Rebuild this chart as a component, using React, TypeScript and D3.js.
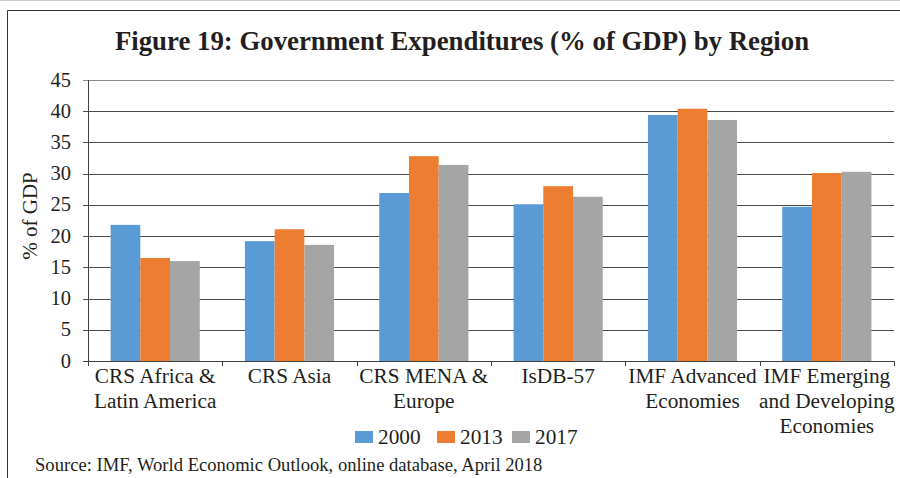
import React, { useEffect, useRef } from "react"
import * as d3 from "d3"

const categories = [
	"CRS Africa & Latin America",
	"CRS Asia",
	"CRS MENA & Europe",
	"IsDB-57",
	"IMF Advanced Economies",
	"IMF Emerging and Developing Economies",
]
const categoryLines = [
	["CRS Africa &", "Latin America"],
	["CRS Asia"],
	["CRS MENA &", "Europe"],
	["IsDB-57"],
	["IMF Advanced", "Economies"],
	["IMF Emerging", "and Developing", "Economies"],
]
const seriesNames = ["2000", "2013", "2017"]
const values2000 = [21.8, 19.2, 26.9, 25.1, 39.4, 24.7]
const values2013 = [16.5, 21.1, 32.8, 28.0, 40.4, 30.1]
const values2017 = [16.0, 18.6, 31.4, 26.3, 38.6, 30.3]
const yTicks = [0, 5, 10, 15, 20, 25, 30, 35, 40, 45]

const colors = ["#5B9BD5", "#ED7D31", "#A5A5A5"]
const FONT = "'Liberation Serif', 'Times New Roman', serif"

const App: React.FC = () => {
	const ref = useRef<SVGSVGElement>(null)

	useEffect(() => {
		const svg = d3.select(ref.current)
		svg.selectAll("*").remove()

		const margin = { top: 80, right: 6, bottom: 117, left: 88 }
		const width = 900
		const height = 478

		const x = d3
			.scaleBand()
			.domain(categories)
			.range([margin.left, width - margin.right])
			.paddingInner(0)
		const xInner = d3
			.scaleBand()
			.domain(seriesNames)
			.range([0, x.bandwidth()])
			.paddingInner(0)
			.paddingOuter(0.76)
		const y = d3
			.scaleLinear()
			.domain([0, 45])
			.range([height - margin.bottom, margin.top])

		const series = [values2000, values2013, values2017]

		// frame
		svg.append("line")
			.attr("x1", 0).attr("x2", width).attr("y1", 0.5).attr("y2", 0.5)
			.attr("stroke", "#d0d0d0")
		svg.append("line")
			.attr("x1", 7.5).attr("x2", width).attr("y1", 10.5).attr("y2", 10.5)
			.attr("stroke", "#333")
		svg.append("line")
			.attr("x1", 7.5).attr("x2", 7.5).attr("y1", 10.5).attr("y2", height)
			.attr("stroke", "#333")

		// title
		svg.append("text")
			.attr("x", 462)
			.attr("y", 50)
			.attr("text-anchor", "middle")
			.attr("font-family", FONT)
			.attr("font-weight", "bold")
			.attr("font-size", 26.8)
			.attr("fill", "#231f20")
			.text("Figure 19: Government Expenditures (% of GDP) by Region")

		// gridlines
		svg.append("g")
			.selectAll("line")
			.data(yTicks.filter((t) => t > 0))
			.join("line")
			.attr("x1", margin.left - 5)
			.attr("x2", width - margin.right)
			.attr("y1", (d) => Math.round(y(d)) + 0.5)
			.attr("y2", (d) => Math.round(y(d)) + 0.5)
			.attr("stroke", (d) => (d === 45 ? "#8a8a8a" : "#4a4a4a"))

		// bars
		series.forEach((vals, si) => {
			svg.append("g")
				.selectAll("rect")
				.data(vals)
				.join("rect")
				.attr("x", (d, i) => x(categories[i])! + xInner(seriesNames[si])!)
				.attr("width", xInner.bandwidth())
				.attr("y", (d) => y(d))
				.attr("height", (d) => y(0) - y(d))
				.attr("fill", colors[si])
		})

		// axes
		const axisColor = "#404040"
		svg.append("line")
			.attr("x1", margin.left - 5).attr("x2", width - margin.right)
			.attr("y1", Math.round(y(0)) + 0.5).attr("y2", Math.round(y(0)) + 0.5)
			.attr("stroke", axisColor)
		svg.append("line")
			.attr("x1", margin.left + 0.5).attr("x2", margin.left + 0.5)
			.attr("y1", y(45)).attr("y2", y(0))
			.attr("stroke", axisColor)

		const bounds = categories.map((c) => x(c)!).concat([width - margin.right])
		svg.append("g")
			.selectAll("line")
			.data(bounds)
			.join("line")
			.attr("x1", (d) => Math.round(d) + 0.5)
			.attr("x2", (d) => Math.round(d) + 0.5)
			.attr("y1", y(0))
			.attr("y2", y(0) + 5)
			.attr("stroke", axisColor)

		// y tick labels
		svg.append("g")
			.selectAll("text")
			.data(yTicks)
			.join("text")
			.attr("x", 71)
			.attr("y", (d) => y(d) + 6.5)
			.attr("text-anchor", "end")
			.attr("font-family", FONT)
			.attr("font-size", 20.5)
			.attr("fill", "#231f20")
			.text((d) => d)

		// y label
		svg.append("text")
			.attr("transform", `translate(37, 216) rotate(-90)`)
			.attr("text-anchor", "middle")
			.attr("font-family", FONT)
			.attr("font-size", 21)
			.attr("fill", "#231f20")
			.text("% of GDP")

		// x labels
		const xl = svg.append("g")
		categoryLines.forEach((lines, i) => {
			const cx = x(categories[i])! + x.bandwidth() / 2
			const t = xl.append("text")
				.attr("text-anchor", "middle")
				.attr("font-family", FONT)
				.attr("font-size", 21.3)
				.attr("fill", "#231f20")
			lines.forEach((ln, j) => {
				t.append("tspan").attr("x", cx).attr("y", 383 + j * 25).text(ln)
			})
		})

		// legend
		const legendX = [355, 437, 512]
		const lg = svg.append("g")
		seriesNames.forEach((s, i) => {
			lg.append("rect")
				.attr("x", legendX[i]).attr("y", 431)
				.attr("width", 18).attr("height", 12)
				.attr("fill", colors[i])
			lg.append("text")
				.attr("x", legendX[i] + 23).attr("y", 444)
				.attr("font-family", FONT)
				.attr("font-size", 21.3)
				.attr("fill", "#231f20")
				.text(s)
		})

		// source
		svg.append("text")
			.attr("x", 35)
			.attr("y", 471)
			.attr("font-family", FONT)
			.attr("font-size", 18.6)
			.attr("fill", "#231f20")
			.text("Source: IMF, World Economic Outlook, online database, April 2018")
	}, [])

	return (
		<svg
			ref={ref}
			width={900}
			height={478}
			style={{ position: "absolute", left: 0, top: 0, background: "#fff" }}
		/>
	)
}

export default App
